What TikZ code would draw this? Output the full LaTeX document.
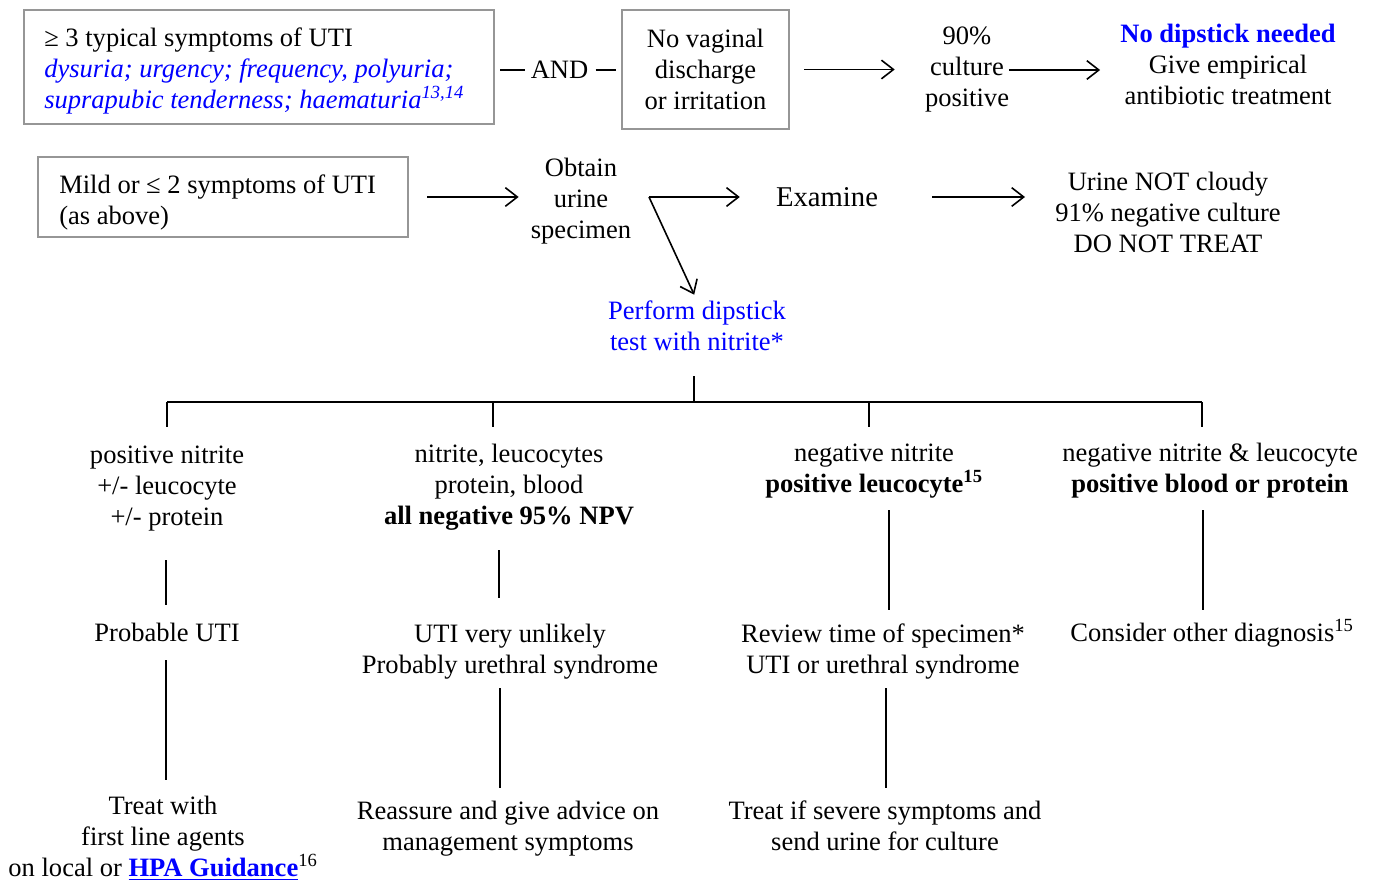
\documentclass[tikz,border=0pt]{standalone}
\usepackage{fontspec}
\setmainfont{Liberation Serif}
\usetikzlibrary{arrows.meta,calc}
\definecolor{lnk}{RGB}{0,0,255}
\definecolor{boxgray}{RGB}{150,150,150}
\begin{document}
\begin{tikzpicture}[x=0.75pt,y=-0.75pt,
  every node/.style={font=\fontsize{19.9}{23.25}\selectfont, inner sep=0pt},
  txt/.style={align=center},
  gbox/.style={draw=boxgray, line width=1.5pt},
  ln/.style={line width=1.2pt},
  arr/.style={line width=1.2pt, -{Straight Barb[length=9pt,width=14pt,line width=1.2pt]}},
]
\useasboundingbox (0,0) rectangle (1376,880);

% ---- row 1
\node[gbox, minimum width=352.5pt, minimum height=85.5pt] (b1) at (259,67) {};
\node[anchor=west, align=left] (b1t) at (44,71) {≥ 3 typical symptoms of UTI\\ {\color{lnk}\itshape dysuria; urgency; frequency, polyuria;}\\ {\color{lnk}\itshape suprapubic tenderness; haematuria\textsuperscript{13,14}}};
\node[txt] (and) at (559.5,70) {AND};
\node[txt, gbox, minimum width=125.25pt, minimum height=89.25pt] (b2) at (705.5,69.5) {No vaginal\\discharge\\or irritation};
\node[txt] (cult) at (967,70) {90\%\\culture\\positive};
\node[txt] (nodip) at (1228,64) {{\color{lnk}\bfseries No dipstick needed}\\Give empirical\\antibiotic treatment};

\draw[ln, shorten <=3.75pt, shorten >=4.5pt] (and.west -| b1.east) -- (and.west);
\draw[ln, shorten <=5.25pt, shorten >=3.75pt] (and.east) -- (and.east -| b2.west);
\draw[arr, shorten <=10.5pt, shorten >=22.5pt] (b2.east) -- (b2.east -| cult.west);
\draw[arr, shorten >=15pt] (cult.east) -- (cult.east -| nodip.west);

% ---- row 2
\node[gbox, minimum width=277.5pt, minimum height=60pt] (b3) at (223,197) {};
\node[anchor=west, align=left] (b3t) at (59,202) {Mild or ≤ 2 symptoms of UTI\\(as above)};
\node[txt] (obt) at (581,201) {Obtain\\urine\\specimen};
\coordinate (fork) at (649,197);
\node[font=\fontsize{21.5}{25}\selectfont] (exam) at (827,197) {Examine};
\node[txt] (notc) at (1168,212) {Urine NOT cloudy\\91\% negative culture\\DO NOT TREAT};
\node[txt, text=lnk] (dip) at (697,326) {Perform dipstick\\test with nitrite*};

\draw[arr, shorten <=13.5pt, shorten >=9pt] (b3.east) -- (b3.east -| obt.west);
\draw[arr, shorten >=27pt] (fork) -- (fork -| exam.west);
\draw[arr, shorten >=5pt] (fork) -- (dip.north);
\draw[arr, shorten <=40.5pt, shorten >=22.5pt] (exam.east) -- (exam.east -| notc.west);

% ---- tree
\coordinate (j0) at (694,376);
\coordinate (j) at (694,402);
\coordinate (h1) at (167,402);
\coordinate (h2) at (493,402);
\coordinate (h3) at (869,402);
\coordinate (h4) at (1202,402);
\coordinate (d1) at (167,427);
\coordinate (d2) at (493,427);
\coordinate (d3) at (869,427);
\coordinate (d4) at (1202,427);
\draw[ln] (j0) -- (j);
\draw[ln] (h1) -- (h4);
\draw[ln] (h1) -- (d1);
\draw[ln] (h2) -- (d2);
\draw[ln] (h3) -- (d3);
\draw[ln] (h4) -- (d4);

% column 1
\node[txt] (c1a) at (167,489) {positive nitrite\\+/- leucocyte\\+/- protein};
\node[txt] (c1b) at (167,632) {Probable UTI};
\node[txt] (c1c) at (163,838) {Treat with\\first line agents\\on local or {\color{lnk}\underline{\textbf{HPA Guidance}}}\textsuperscript{16}};
\coordinate (v1a) at (166,560); \coordinate (v1b) at (166,605);
\coordinate (v1c) at (166,660); \coordinate (v1d) at (166,780);
\draw[ln] (v1a) -- (v1b);
\draw[ln] (v1c) -- (v1d);

% column 2
\node[txt] (c2a) at (509,487) {nitrite, leucocytes\\protein, blood\\\textbf{all negative 95\% NPV}};
\node[txt] (c2b) at (510,652) {UTI very unlikely\\Probably urethral syndrome};
\node[txt] (c2c) at (508,829) {Reassure and give advice on\\management symptoms};
\coordinate (v2a) at (499,550); \coordinate (v2b) at (499,598);
\coordinate (v2c) at (500,688); \coordinate (v2d) at (500,788);
\draw[ln] (v2a) -- (v2b);
\draw[ln] (v2c) -- (v2d);

% column 3
\node[txt] (c3a) at (874,471) {negative nitrite\\\textbf{positive leucocyte\textsuperscript{15}}};
\node[txt] (c3b) at (883,652) {Review time of specimen*\\UTI or urethral syndrome};
\node[txt] (c3c) at (885,826) {Treat if severe symptoms and\\send urine for culture};
\coordinate (v3a) at (889,510); \coordinate (v3b) at (889,610);
\coordinate (v3c) at (886,688); \coordinate (v3d) at (886,788);
\draw[ln] (v3a) -- (v3b);
\draw[ln] (v3c) -- (v3d);

% column 4
\node[txt] (c4a) at (1210,471) {negative nitrite \& leucocyte\\\textbf{positive blood or protein}};
\node[txt] (c4b) at (1212,633) {Consider other diagnosis\textsuperscript{15}};
\coordinate (v4a) at (1203,510); \coordinate (v4b) at (1203,610);
\draw[ln] (v4a) -- (v4b);
\end{tikzpicture}
\end{document}
